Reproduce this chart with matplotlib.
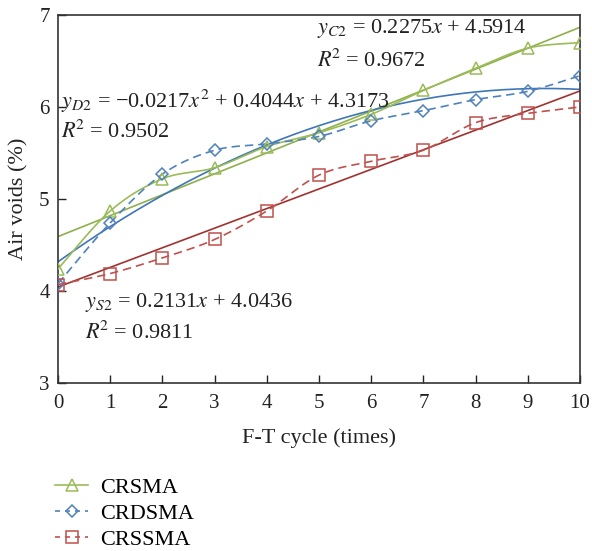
import numpy as np
import matplotlib
matplotlib.use("Agg")
import matplotlib.pyplot as plt
from matplotlib.lines import Line2D

plt.rcParams['font.family'] = ['Liberation Serif', 'DejaVu Serif']
plt.rcParams['mathtext.fontset'] = 'stix'

# ---- data ----
cycles = [0, 1, 2, 3, 4, 5, 6, 7, 8, 9, 10]
crsma = [4.24, 4.87, 5.22, 5.34, 5.57, 5.72, 5.92, 6.18, 6.42, 6.64, 6.70]
crdsma = [4.08, 4.74, 5.27, 5.53, 5.60, 5.68, 5.85, 5.96, 6.08, 6.17, 6.34]
crssma = [4.07, 4.19, 4.36, 4.56, 4.87, 5.26, 5.41, 5.53, 5.83, 5.93, 6.00]

# trend line coefficients (highest power first), as printed on the chart
fit_c = [0.2275, 4.5914]
fit_d = [-0.0217, 0.4044, 4.3173]
fit_s = [0.2131, 4.0436]

series_names = ["CRSMA", "CRDSMA", "CRSSMA"]
x_ticks = [0, 1, 2, 3, 4, 5, 6, 7, 8, 9, 10]
y_ticks = [3, 4, 5, 6, 7]

green = "#9BBB59"
blue = "#4F81BD"
red = "#C0504D"
green_fit = "#8DB04A"
blue_fit = "#3F76B8"
red_fit = "#A0322F"


def smooth(x, y, n=24):
    pts = np.column_stack([x, y]).astype(float)
    out = []
    m = len(pts)
    for i in range(m - 1):
        p0 = pts[i - 1] if i > 0 else pts[i]
        p1 = pts[i]
        p2 = pts[i + 1]
        p3 = pts[i + 2] if i + 2 < m else pts[i + 1]
        c1 = p1 + (p2 - p0) / 6.0
        c2 = p2 - (p3 - p1) / 6.0
        t = np.linspace(0, 1, n)[:, None]
        seg = ((1 - t) ** 3) * p1 + 3 * ((1 - t) ** 2) * t * c1 + 3 * (1 - t) * t ** 2 * c2 + t ** 3 * p2
        if i > 0:
            seg = seg[1:]
        out.append(seg)
    out = np.vstack(out)
    return out[:, 0], out[:, 1]


fig = plt.figure(figsize=(5.92, 5.51), dpi=100)
ax = fig.add_axes([58 / 592, 1 - 383 / 551, (580 - 58) / 592, (383 - 15) / 551])

xf = np.linspace(0, 10, 200)
ax.plot(xf, np.polyval(fit_c, xf), color=green_fit, lw=1.2, zorder=2)
ax.plot(xf, np.polyval(fit_d, xf), color=blue_fit, lw=1.2, zorder=2)
ax.plot(xf, np.polyval(fit_s, xf), color=red_fit, lw=1.2, zorder=2)

sx, sy = smooth(cycles, crsma)
ax.plot(sx, sy, color=green, lw=1.2, zorder=3)
ax.plot(cycles, crsma, ls='none', marker='^', ms=8, mfc='none', mec=green, mew=1.1, zorder=4)

sx, sy = smooth(cycles, crdsma)
ax.plot(sx, sy, color=blue, lw=1.2, ls=(0, (5, 3)), zorder=3)
ax.plot(cycles, crdsma, ls='none', marker='D', ms=6, mfc='none', mec=blue, mew=1.1, zorder=4)

sx, sy = smooth(cycles, crssma)
ax.plot(sx, sy, color=red, lw=1.2, ls=(0, (5, 3)), zorder=3)
ax.plot(cycles, crssma, ls='none', marker='s', ms=8, mfc='none', mec=red, mew=1.1, zorder=4)

ax.set_xlim(0, 10)
ax.set_ylim(3, 7)
ax.set_xticks(x_ticks)
ax.set_yticks(y_ticks)
ax.tick_params(direction='in', length=6, width=1, labelsize=15, colors='#222222')
ax.tick_params(axis='x', pad=8)
ax.tick_params(axis='y', pad=6)
for s in ax.spines.values():
    s.set_color('#333333')
    s.set_linewidth(1.2)

ax.set_xlabel("F-T cycle (times)", fontsize=16, labelpad=11, color='#222222')
ax.set_ylabel("Air voids (%)", fontsize=16, labelpad=8, color='#222222')

fs = 16
tkw = dict(transform=ax.transData, fontsize=fs, color='#222222', va='center', ha='left', zorder=5)
ax.text(4.97, 6.85, r"$y_{C2}$ = 0.2275$x$ + 4.5914", **tkw)
ax.text(4.97, 6.50, r"$R^{\!2}$ = 0.9672", **tkw)
ax.text(0.05, 6.06, r"$y_{D2}$ = −0.0217$x^2$ + 0.4044$x$ + 4.3173", **tkw)
ax.text(0.05, 5.73, r"$R^{\!2}$ = 0.9502", **tkw)
ax.text(0.52, 3.88, r"$y_{S2}$ = 0.2131$x$ + 4.0436", **tkw)
ax.text(0.52, 3.55, r"$R^{\!2}$ = 0.9811", **tkw)

handles = [
    Line2D([], [], color=green, lw=1.2, marker='^', ms=8, mfc='none', mec=green, mew=1.1),
    Line2D([], [], color=blue, lw=1.2, ls=(0, (3, 3)), marker='D', ms=6, mfc='none', mec=blue, mew=1.1),
    Line2D([], [], color=red, lw=1.2, ls=(0, (3, 3)), marker='s', ms=8, mfc='none', mec=red, mew=1.1),
]
fig.legend(handles, series_names, loc='upper left', bbox_to_anchor=(55 / 592, 1 - 477 / 551),
           frameon=False, fontsize=16, handlelength=1.5, handletextpad=0.55,
           labelspacing=0.25, numpoints=1, borderaxespad=0, borderpad=0)

fig.savefig("out.png", dpi=100)
